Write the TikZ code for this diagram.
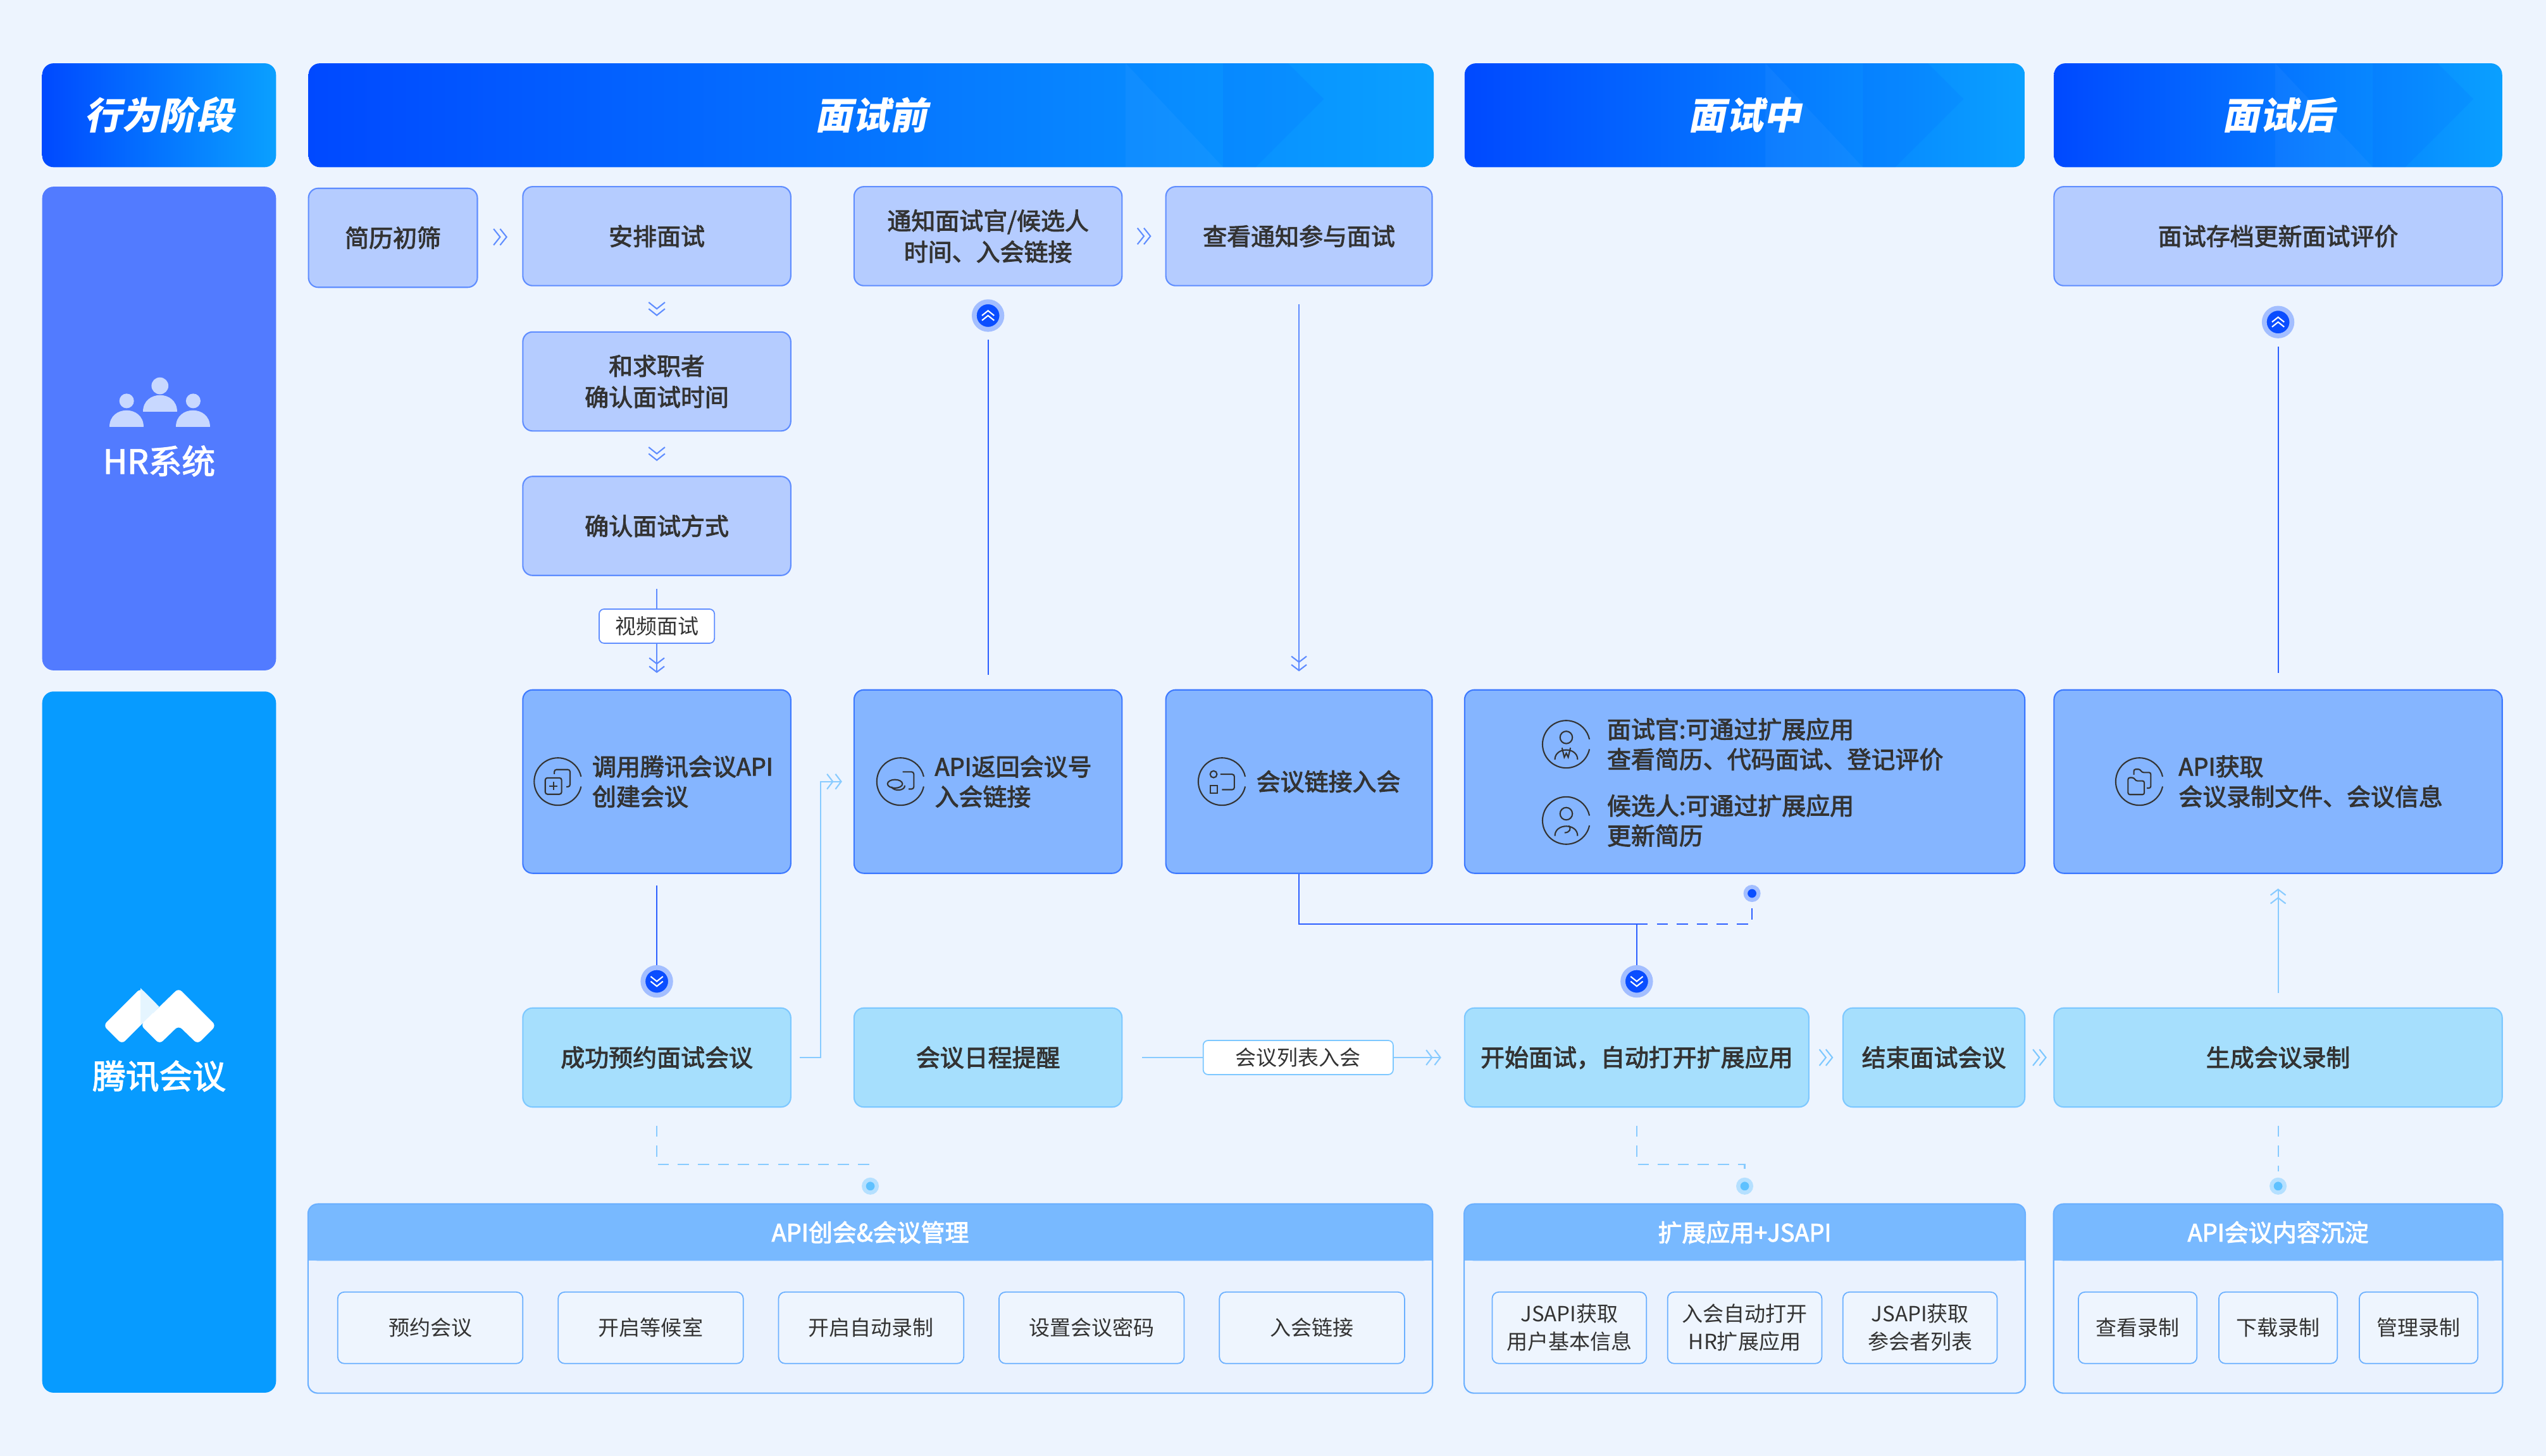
\documentclass[tikz,border=0pt]{standalone}
\usepackage{fontspec}
\setmainfont{Noto Sans CJK SC}
\newfontfamily\hdrfont[FakeSlant=0.2]{Noto Sans CJK SC}
\newfontfamily\medfont[FakeBold=2.5]{Noto Sans CJK SC}
\usetikzlibrary{arrows.meta,calc,positioning}

\newlength\upx
\setlength\upx{0.0256633cm}

\definecolor{bgc}{HTML}{EDF4FE}
\definecolor{hdrL}{HTML}{0049FF}
\definecolor{hdrR}{HTML}{0AA0FF}
\definecolor{hrlane}{HTML}{527BFF}
\definecolor{mtlane}{HTML}{079BFF}
\definecolor{hrfill}{HTML}{B5CCFF}
\definecolor{hrline}{HTML}{5F8DFF}
\definecolor{apifill}{HTML}{85B5FF}
\definecolor{apiline}{HTML}{3D79FF}
\definecolor{mtfill}{HTML}{A6DFFD}
\definecolor{mtline}{HTML}{7DC8FF}
\definecolor{ink}{HTML}{333333}
\definecolor{pnlhead}{HTML}{78B9FF}
\definecolor{pnlbody}{HTML}{EAF2FE}
\definecolor{itemfill}{HTML}{EEF5FE}
\definecolor{itemline}{HTML}{6BB0FF}
\definecolor{hopfill}{HTML}{0A4DFF}
\definecolor{hophalo}{HTML}{A3BEFF}
\definecolor{dotlight}{HTML}{5EC1FF}
\definecolor{halolight}{HTML}{B5E0FF}
\definecolor{lineblue}{HTML}{2C5FFF}
\definecolor{linesoft}{HTML}{5E8BFF}
\definecolor{lineaqua}{HTML}{88CBFF}
\definecolor{people}{HTML}{C8D8FF}

\newcommand\boxfont{\medfont\fontsize{10.8}{14}\selectfont}
\newcommand\smallfont{\fontsize{9.4}{12.6}\selectfont}

\tikzset{
  hdr/.style={rounded corners=7\upx, left color=hdrL, right color=hdrR, text=white,
    font=\hdrfont\bfseries\fontsize{16.8}{20}\selectfont, minimum height=64\upx, inner sep=0},
  lane/.style={rounded corners=7\upx, minimum width=144\upx, inner sep=0},
  lanetext/.style={text=white, font=\medfont\fontsize{15}{18}\selectfont, inner sep=0},
  hrbox/.style={draw=hrline, fill=hrfill, line width=0.6pt, rounded corners=6\upx, text=ink,
    font=\boxfont, align=center, minimum height=61\upx, inner sep=0},
  apibox/.style={hrbox, draw=apiline, fill=apifill, minimum height=113\upx},
  mtbox/.style={hrbox, draw=mtline, fill=mtfill},
  boxtext/.style={text=ink, font=\medfont\fontsize{10.8}{13.5}\selectfont, align=left, inner sep=0},
  icon/.style={circle, minimum size=29.2\upx, inner sep=0},
  tag/.style={fill=white, draw=hrline, line width=0.5pt, rounded corners=3\upx, text=ink,
    font=\smallfont, minimum height=21\upx, inner sep=0},
  pnl/.style={fill=pnlbody, minimum height=116\upx, inner sep=0},
  pnltext/.style={text=white, font=\medfont\fontsize{10.8}{13}\selectfont, inner sep=0},
  item/.style={fill=itemfill, draw=itemline, line width=0.5pt, rounded corners=4\upx, text=ink,
    font=\smallfont, align=center, minimum height=44\upx, inner sep=0},
  hop/.style={circle, fill=hopfill, draw=hophalo, line width=3\upx, minimum size=17\upx, inner sep=0},
  pdot/.style={circle, fill=dotlight, draw=halolight, line width=2.5\upx, minimum size=8\upx, inner sep=0},
  link/.style={line width=0.6pt, lineblue},
  chevs/.style={-{Straight Barb[length=2.6pt,width=6.8pt,sep=0.5pt]Straight Barb[length=2.6pt,width=6.8pt]}},
  dashlink/.style={line width=0.6pt, dash pattern=on 5pt off 4pt},
  dchev/.pic={\draw[line width=0.6pt] (-5,-4) -- (0,0) -- (5,-4) (-5,0) -- (0,4) -- (5,0);},
  ring/.pic={\draw[line width=0.6pt] (12:14.6) arc[start angle=12, end angle=348, radius=14.6];},
  gadd/.pic={
    \draw[line width=0.6pt, rounded corners=1pt] (-7.8,-2.3) rectangle (2.3,7.8);
    \draw[line width=0.6pt] (-5.3,2.7) -- (-0.3,2.7) (-2.8,0.2) -- (-2.8,5.2);
    \draw[line width=0.6pt, rounded corners=1pt] (-2.2,-4.6) -- (-2.2,-7.4) -- (7.5,-7.4) -- (7.5,3.2) -- (5.2,3.2);},
  glink/.pic={
    \draw[line width=0.6pt, rounded corners=1pt] (1.3,-6) -- (8.2,-6) -- (8.2,4.6) -- (5,4.6);
    \draw[line width=0.6pt] (-3.4,1.4) ellipse (4.6 and 2.6);
    \draw[line width=0.6pt] (-5.6,3.2) .. controls (-4,6.4) and (3,5.6) .. (2.6,2.4);},
  gjoin/.pic={
    \draw[line width=0.6pt] (-5.2,-4.5) circle (2.1);
    \draw[line width=0.6pt] (-7.2,2.6) rectangle (-2.8,7);
    \draw[line width=0.6pt, rounded corners=1pt] (-1,-4.5) -- (7.6,-4.5) -- (7.6,5) -- (0,5);},
  gperson/.pic={
    \draw[line width=0.6pt] (0,-4.2) circle (3.8);
    \draw[line width=0.6pt] (-7,9.5) .. controls (-7,1.5) and (7,1.5) .. (7,9.5);
    \draw[line width=0.6pt] (-2.6,2.2) -- (-1.2,8) -- (0,5.6) -- (1.2,8) -- (2.6,2.2);},
  gcand/.pic={
    \draw[line width=0.6pt] (0,-4.2) circle (3.8);
    \draw[line width=0.6pt] (-7,9.5) .. controls (-7,1.5) and (7,1.5) .. (7,9.5);
    \draw[line width=0.6pt] (1.5,3.2) .. controls (3.5,5) and (2,7.5) .. (-1,7.5);},
  gfolder/.pic={
    \draw[line width=0.6pt, rounded corners=0.8pt] (-7,8) -- (-7,-2.4) -- (-3.4,-2.4) -- (-2.2,-0.4) -- (3,-0.4) -- (3,8) -- cycle;
    \draw[line width=0.6pt, rounded corners=0.8pt] (-3.4,-4.2) -- (-3.4,-7.6) -- (0.4,-7.6) -- (1.6,-5.6) -- (7,-5.6) -- (7,4) -- (4.6,4);},
  folks/.pic={
    \fill (0,-12.3) circle (5.2);
    \fill (-10.5,3.5) .. controls (-10.5,-10) and (10.5,-10) .. (10.5,3.5) -- cycle;
    \foreach \s in {-1,1} {
      \fill (20.5*\s,-3) circle (4.5);
      \fill (20.5*\s-10.5,13) .. controls (20.5*\s-10.5,-0.5) and (20.5*\s+10.5,-0.5) .. (20.5*\s+10.5,13) -- cycle;}},
  logo/.pic={
    \fill[white, rounded corners=2pt] (-11.8,-17.2) -- (-0.35,-5.75) -- (-23.3,17.2) -- (-34.75,5.75) -- cycle;
    \fill[white!70!mtlane!35!white] (-11.8,-17.2) -- (-0.35,-5.75) -- (-11.8,5.5) -- cycle;
    \fill[white, rounded corners=2pt] (-11.8,5.5) -- (11.6,-17.2) -- (34.65,5.85) -- (23.3,17.2) -- (11.6,5.9) -- (-0.1,17.2) -- cycle;},
  facet/.pic={
    \fill[white, opacity=0.04] (-60,-32) -- (0,32) -- (-60,32) -- cycle;
    \fill[hdrL, opacity=0.09] (0,-32) -- (40,-32) -- (62,-10) -- (20,32) -- (0,32) -- cycle;}
}

\begin{document}
\begin{tikzpicture}[x=0.0256633cm, y=-0.0256633cm]
  \fill[bgc] (0,0) rectangle (1568,897);

  % stage headers
  \node[hdr, minimum width=144\upx] (xingwei) at (98,71) {行为阶段};
  \node[hdr, minimum width=693\upx] (qian) at (536.5,71) {面试前};
  \node[hdr, minimum width=345\upx] (zhong) at (1074.5,71) {面试中};
  \node[hdr, minimum width=276\upx] (hou) at (1403,71) {面试后};
  \pic at ($(qian.east)+(-130,0)$) {facet};
  \pic at ($(zhong.east)+(-100,0)$) {facet};
  \pic at ($(hou.east)+(-80,0)$) {facet};

  % lanes
  \node[lane, fill=hrlane, minimum height=298\upx] (hr) at (98,264) {};
  \node[lane, fill=mtlane, minimum height=432\upx] (tm) at (98,642) {};
  \pic[color=people] at (98.5,250) {folks};
  \node[lanetext] (hr-t) at (98,284) {HR系统};
  \pic at (98.4,626) {logo};
  \node[lanetext] (tm-t) at (98,663) {腾讯会议};

  % HR row
  \node[hrbox, minimum width=104\upx] (jianli) at (242,146.5) {简历初筛};
  \node[hrbox, minimum width=165\upx] (anpai) at (404.5,145.5) {安排面试};
  \node[hrbox, minimum width=165\upx] (queren) at (404.5,235) {和求职者\\确认面试时间};
  \node[hrbox, minimum width=165\upx] (fangshi) at (404.5,324) {确认面试方式};
  \node[tag, minimum width=71\upx, below=20\upx of fangshi] (shipin) {视频面试};
  \node[hrbox, minimum width=165\upx] (tongzhi) at (608.5,145.5) {通知面试官/候选人\\时间、入会链接};
  \node[hrbox, minimum width=164\upx] (chakan) at (800,145.5) {查看通知参与面试};
  \node[hrbox, minimum width=276\upx] (cundang) at (1403,145.5) {面试存档更新面试评价};

  % API row
  \node[apibox, minimum width=165\upx] (diaoyong) at (404.5,481.5) {};
  \node[apibox, minimum width=165\upx] (fanhui) at (608.5,481.5) {};
  \node[apibox, minimum width=164\upx] (lianjie) at (800,481.5) {};
  \node[apibox, minimum width=345\upx] (mianshi) at (1074.5,481.5) {};
  \node[apibox, minimum width=276\upx] (huoqu) at (1403,481.5) {};

  \node[icon] (diaoyong-i) at ($(diaoyong.west)+(22,0)$) {};
  \node[boxtext, right=6\upx of diaoyong-i] (diaoyong-t) {调用腾讯会议API\\创建会议};
  \node[icon] (fanhui-i) at ($(fanhui.west)+(29,0)$) {};
  \node[boxtext, right=6\upx of fanhui-i] (fanhui-t) {API返回会议号\\入会链接};
  \node[icon] (lianjie-i) at ($(lianjie.west)+(35,0)$) {};
  \node[boxtext, right=6\upx of lianjie-i] (lianjie-t) {会议链接入会};
  \node[icon] (mianshi-i1) at ($(mianshi.west)+(63,-23)$) {};
  \node[boxtext, right=10\upx of mianshi-i1] (mianshi-t1) {面试官:可通过扩展应用\\查看简历、代码面试、登记评价};
  \node[icon] (mianshi-i2) at ($(mianshi.west)+(63,24)$) {};
  \node[boxtext, right=10\upx of mianshi-i2] (mianshi-t2) {候选人:可通过扩展应用\\更新简历};
  \node[icon] (huoqu-i) at ($(huoqu.west)+(53,0)$) {};
  \node[boxtext, right=9\upx of huoqu-i] (huoqu-t) {API获取\\会议录制文件、会议信息};

  \foreach \n in {diaoyong-i, fanhui-i, lianjie-i, mianshi-i1, mianshi-i2, huoqu-i}
    \pic[color=ink] at (\n) {ring};
  \pic[color=ink] at (diaoyong-i) {gadd};
  \pic[color=ink] at (fanhui-i) {glink};
  \pic[color=ink] at (lianjie-i) {gjoin};
  \pic[color=ink] at (mianshi-i1) {gperson};
  \pic[color=ink] at (mianshi-i2) {gcand};
  \pic[color=ink] at (huoqu-i) {gfolder};

  % meeting row
  \node[mtbox, minimum width=165\upx] (chenggong) at (404.5,651.5) {成功预约面试会议};
  \node[mtbox, minimum width=165\upx] (richeng) at (608.5,651.5) {会议日程提醒};
  \node[tag, draw=mtline, minimum width=117\upx] (liebiao) at (799.5,651.5) {会议列表入会};
  \node[mtbox, minimum width=212\upx] (kaishi) at (1008,651.5) {开始面试，自动打开扩展应用};
  \node[mtbox, minimum width=112\upx] (jieshu) at (1191,651.5) {结束面试会议};
  \node[mtbox, minimum width=276\upx] (luzhi) at (1403,651.5) {生成会议录制};

  % capability panels
  \node[pnl, minimum width=692\upx] (apipnl) at (536,800) {};
  \node[pnl, minimum width=345\upx] (extpnl) at (1074.5,800) {};
  \node[pnl, minimum width=276\upx] (recpnl) at (1403,800) {};
  \foreach \p in {apipnl, extpnl, recpnl} {
    \fill[pnlhead, rounded corners=6\upx] (\p.north west) rectangle ($(\p.north east)+(0,35)$);
    \fill[pnlhead] ($(\p.north west)+(0,15)$) rectangle ($(\p.north east)+(0,35)$);
    \draw[itemline, line width=0.6pt, rounded corners=6\upx] (\p.north west) rectangle (\p.south east);
  }
  \node[pnltext] (apipnl-t) at ($(apipnl.north)+(0,17.5)$) {API创会\&会议管理};
  \node[pnltext] (extpnl-t) at ($(extpnl.north)+(0,17.5)$) {扩展应用+JSAPI};
  \node[pnltext] (recpnl-t) at ($(recpnl.north)+(0,17.5)$) {API会议内容沉淀};

  \foreach \t [count=\i] in {预约会议, 开启等候室, 开启自动录制, 设置会议密码, 入会链接}
    \node[item, minimum width=114\upx] (api-\i) at (265+135.75*\i-135.75,818) {\t};
  \foreach \t [count=\i] in {{JSAPI获取\\用户基本信息}, {入会自动打开\\HR扩展应用}, {JSAPI获取\\参会者列表}}
    \node[item, minimum width=95\upx] (ext-\i) at (966.5+108*\i-108,818) {\t};
  \foreach \t [count=\i] in {查看录制, 下载录制, 管理录制}
    \node[item, minimum width=73\upx] (rec-\i) at (1316.5+86.5*\i-86.5,818) {\t};

  % hops and dots
  \node[hop] (hop1) at ($(chenggong.north)+(0,-16)$) {};
  \node[hop] (hop2) at ($(tongzhi.south)+(0,18)$) {};
  \node[hop] (hop3) at ($(kaishi.north)+(0,-16)$) {};
  \node[hop] (hop4) at ($(cundang.south)+(0,22)$) {};
  \pic[color=white, scale=0.75] at (hop1) {dchev};
  \pic[color=white, scale=0.75, rotate=180] at (hop2) {dchev};
  \pic[color=white, scale=0.75] at (hop3) {dchev};
  \pic[color=white, scale=0.75, rotate=180] at (hop4) {dchev};
  \node[pdot, fill=hopfill, draw=hophalo] (mdot) at ($(mianshi.south)+(4.5,12)$) {};
  \node[pdot] (pdot1) at ($(apipnl.north)+(0,-11)$) {};
  \node[pdot] (pdot2) at ($(extpnl.north)+(0,-11)$) {};
  \node[pdot] (pdot3) at ($(recpnl.north)+(0,-11)$) {};

  % chevrons between neighbours
  \pic[color=hrline, rotate=90] at ($(jianli.east)!0.5!(anpai.west)$) {dchev};
  \pic[color=hrline] at ($(anpai.south)!0.5!(queren.north)$) {dchev};
  \pic[color=hrline] at ($(queren.south)!0.5!(fangshi.north)$) {dchev};
  \pic[color=hrline, rotate=90] at ($(tongzhi.east)!0.5!(chakan.west)$) {dchev};
  \pic[color=mtline, rotate=90] at ($(kaishi.east)!0.5!(jieshu.west)$) {dchev};
  \pic[color=mtline, rotate=90] at ($(jieshu.east)!0.5!(luzhi.west)$) {dchev};

  % connectors
  \draw[link, linesoft, shorten <=8\upx] (fangshi.south) -- (shipin.north);
  \draw[link, linesoft, chevs, shorten >=10\upx] (shipin.south) -- (diaoyong.north);
  \draw[link, shorten <=7\upx] (diaoyong.south) -- (hop1.north);
  \draw[link, lineaqua, chevs, shorten <=5\upx, shorten >=7\upx] (chenggong.east) -- ++(18,0) |- (fanhui.west);
  \draw[link, shorten <=9\upx, shorten >=5\upx] (fanhui.north) -- (hop2.south);
  \draw[link, linesoft, chevs, shorten <=11\upx, shorten >=11\upx] (chakan.south) -- (lianjie.north);
  \draw[link] (lianjie.south) -- ++(0,31) coordinate (bend) -| (hop3.north);
  \draw[dashlink, lineblue, shorten >=4\upx] (bend -| hop3) -| (mdot.south);
  \draw[link, lineaqua, shorten <=12\upx] (richeng.east) -- (liebiao.west);
  \draw[link, lineaqua, chevs, shorten >=14\upx] (liebiao.east) -- (kaishi.west);
  \draw[link, lineaqua, chevs, shorten <=9\upx, shorten >=9\upx] (luzhi.north) -- (huoqu.south);
  \draw[link, shorten <=10\upx, shorten >=5\upx] (huoqu.north) -- (hop4.south);
  \draw[dashlink, lineaqua, shorten <=11\upx, shorten >=4\upx] (chenggong.south) -- ++(0,35) -| (pdot1.north);
  \draw[dashlink, lineaqua, shorten <=11\upx, shorten >=4\upx] (kaishi.south) -- ++(0,35) -| (pdot2.north);
  \draw[dashlink, lineaqua, shorten <=11\upx, shorten >=4\upx] (luzhi.south) -- (pdot3.north);
\end{tikzpicture}
\end{document}
